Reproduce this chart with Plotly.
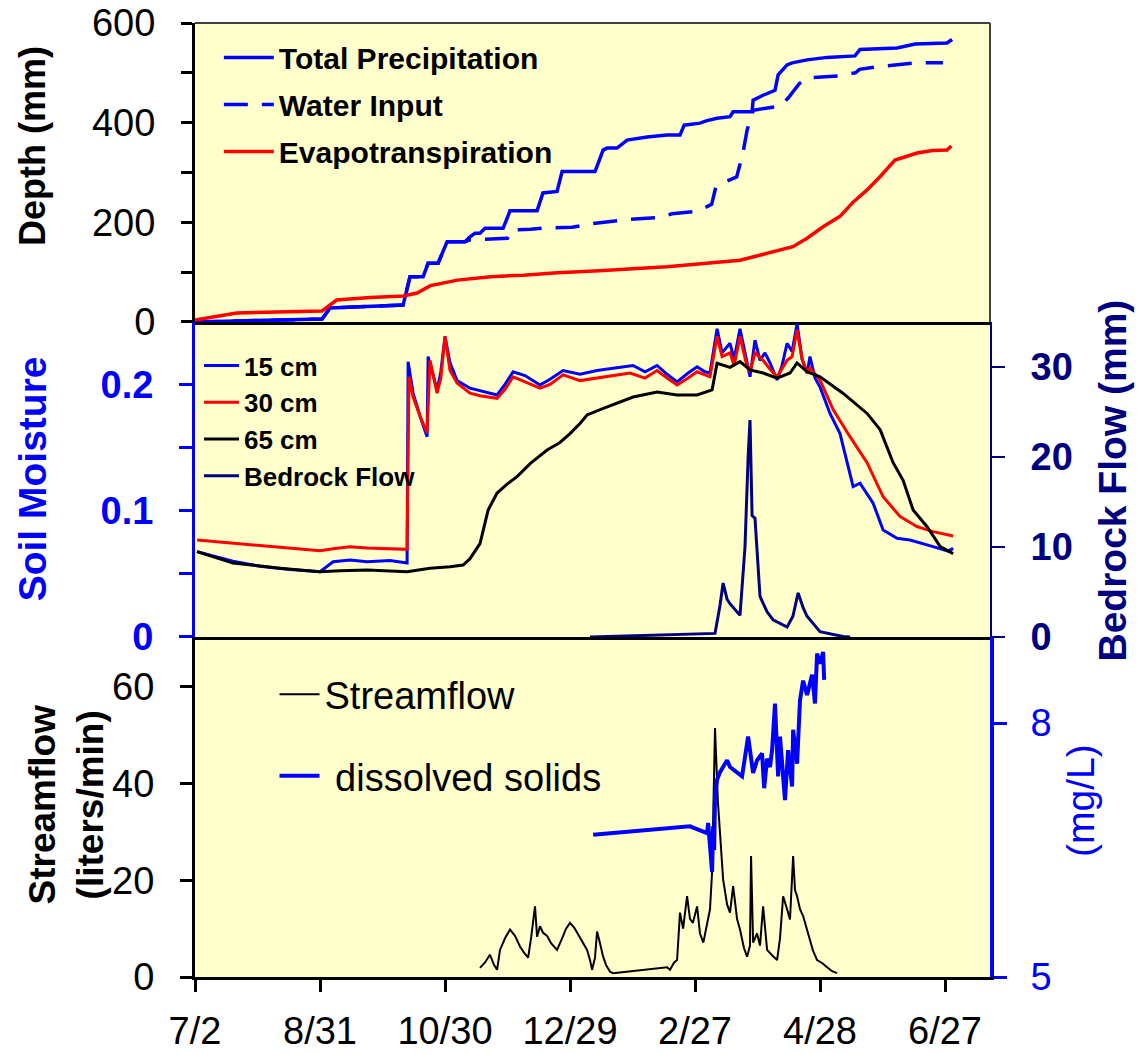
import plotly.graph_objects as go

# ---------------- data (x = days since 7/2) ----------------
tick_days = [0, 60, 120, 180, 240, 300, 360]
tick_labels = ["7/2", "8/31", "10/30", "12/29", "2/27", "4/28", "6/27"]

precip_day = [0, 31, 61, 64.8, 99.9, 103.2, 109.5, 111.9, 116.7, 121, 129.6, 132, 134.4, 136.8,
              139.2, 147.9, 151.2, 164.2, 167, 173.8, 176.2, 192, 195.9, 197.8, 202.6, 207.4,
              217, 226.6, 232.8, 234.8, 242.4, 245.8, 250.6, 256.8, 258.3, 267.4, 267.9, 272.7,
              278.4, 279.9, 284.2, 286.6, 293.8, 303.4, 316.8, 319.2, 337, 345.7, 361, 363.4]
precip_mm = [0, 3, 6, 28, 34, 91, 91, 118, 118, 161, 161, 171, 178, 178,
             188, 188, 223, 223, 259, 262, 302, 302, 345, 349, 349, 365,
             371, 375, 375, 395, 399, 404, 409, 412, 422, 422, 445, 455,
             465, 496, 516, 520, 526, 531, 534, 547, 550, 558, 560, 567]

input_day = [0, 31, 61, 64.8, 99.9, 103.2, 109.5, 111.9, 116.7, 121, 129.6, 132, 145.5, 150,
             152, 161, 169, 181, 190, 199, 209, 221, 229, 241, 248, 250, 253, 260, 263, 265,
             268, 274, 281, 285, 290, 294, 301, 309, 317, 319, 327, 337, 346, 359]
input_mm = [0, 3, 6, 28, 34, 91, 91, 118, 118, 161, 161, 165, 167, 168,
            185, 186, 189, 190, 197, 201, 206, 209, 217, 222, 236, 271, 279, 291, 339, 385,
            425, 429, 433, 451, 478, 490, 492, 494, 500, 507, 512, 516, 520, 520]

et_day = [0, 20, 61, 68, 84, 100, 106.6, 113, 126, 142, 157.5, 174, 194, 226.6, 261.6,
          274.6, 287, 293.8, 301.5, 309.6, 316, 322.6, 328.9, 336, 346.6, 354, 361, 363]
et_mm = [4, 18, 22, 44, 49, 52, 58, 73, 84, 91, 94, 99, 103, 111, 124,
         138, 151, 168, 191, 212, 241, 265, 292, 325, 339, 344, 345, 353]

sm15_day = [1, 9.6, 18.2, 31, 45.6, 60, 66.3, 74.4, 82.6, 93.6, 101.8, 102.3, 104.7, 108, 111.4,
            111.9, 116.2, 118, 120, 122.4, 125.8, 132, 136.8, 145, 148.8, 152.7, 158.4, 165.6,
            170.4, 176.7, 184.8, 193, 201.6, 210.3, 216, 221.8, 226.6, 231.4, 236.7, 241, 244.8,
            247.2, 250.6, 253, 256.8, 258.8, 261.6, 264.4, 266.4, 268.8, 271.2, 273.6, 276,
            279.4, 281.8, 284.2, 286.6, 289, 291.4, 293.8, 295.2, 297.6, 300, 304.8, 309.6,
            315.9, 319.2, 325.5, 330.3, 337, 343.2, 354.3, 361.5, 363.9]
sm15 = [0.0676, 0.064, 0.060, 0.056, 0.0535, 0.0517, 0.0596, 0.061, 0.0595, 0.0605, 0.0585, 0.218,
        0.193, 0.175, 0.1586, 0.222, 0.1956, 0.21, 0.238, 0.217, 0.203, 0.197, 0.195, 0.1916,
        0.2, 0.21, 0.207, 0.1995, 0.204, 0.211, 0.208, 0.211, 0.213, 0.215, 0.21, 0.215,
        0.208, 0.202, 0.209, 0.214, 0.21, 0.209, 0.244, 0.225, 0.2325, 0.22, 0.244, 0.222,
        0.206, 0.235, 0.219, 0.225, 0.217, 0.2035, 0.215, 0.2325, 0.226, 0.248, 0.22, 0.209,
        0.222, 0.205, 0.198, 0.177, 0.161, 0.119, 0.1217, 0.1059, 0.0847, 0.0781, 0.0768,
        0.0715, 0.068, 0.0702]

sm30_day = [1, 18.2, 40.8, 60, 67.2, 74.4, 82.6, 93.6, 101.8, 102.7, 104.7, 108, 111.4, 112.8,
            116.2, 118, 120, 122.4, 125.8, 132, 136.8, 145, 148.8, 152.7, 158.4, 165.6, 170.4,
            176.7, 184.8, 193, 201.6, 208.8, 216, 221.8, 226.6, 231.4, 236.7, 241, 247.2,
            250.6, 253, 256.8, 258.8, 261.6, 264.4, 266.4, 268.8, 272.7, 276, 279.4, 284.2,
            286.6, 289, 291.4, 293.8, 295.2, 300, 306.3, 314.4, 322.6, 330.3, 338.5, 346.6,
            354.3, 363.9]
sm30 = [0.0768, 0.0742, 0.071, 0.0683, 0.070, 0.0715, 0.0705, 0.0698, 0.0694, 0.206, 0.19,
        0.175, 0.1615, 0.219, 0.193, 0.205, 0.238, 0.211, 0.201, 0.193, 0.191, 0.189, 0.196,
        0.206, 0.202, 0.197, 0.2, 0.2075, 0.203, 0.205, 0.207, 0.209, 0.205, 0.211, 0.205,
        0.1995, 0.205, 0.21, 0.206, 0.238, 0.222, 0.225, 0.215, 0.238, 0.218, 0.21, 0.225,
        0.219, 0.212, 0.206, 0.219, 0.222, 0.243, 0.22, 0.209, 0.213, 0.2035, 0.18, 0.1586,
        0.138, 0.111, 0.0953, 0.0873, 0.0834, 0.080]

sm65_day = [1, 18.2, 40.8, 60, 69.6, 82.6, 101.8, 112.8, 122.4, 128.7, 132, 136.8, 140.7, 145,
            149.8, 154.6, 161, 169, 175.2, 180, 184.8, 188.2, 196, 204, 210.3, 221.8, 231.4,
            241, 248.2, 250.6, 256.8, 261.6, 266.4, 272.7, 279.4, 285.6, 289, 293.8, 300, 311,
            322.6, 328.9, 335.1, 339.9, 344.7, 351.4, 357.7, 363.9]
sm65 = [0.0676, 0.0585, 0.0545, 0.0517, 0.0525, 0.053, 0.0517, 0.0544, 0.0557, 0.057, 0.062,
        0.074, 0.1005, 0.114, 0.121, 0.127, 0.1375, 0.148, 0.154, 0.161, 0.169, 0.1758, 0.181,
        0.186, 0.19, 0.194, 0.1916, 0.1916, 0.1956, 0.2167, 0.2135, 0.218, 0.2114, 0.209,
        0.205, 0.209, 0.217, 0.21, 0.206, 0.193, 0.177, 0.164, 0.138, 0.124, 0.1005, 0.0873,
        0.0715, 0.066]

bedrock_day = [189.6, 241, 249.6, 252, 253.5, 255.4, 256.8, 261.6, 264, 265.5, 266.4, 267.4,
               268.8, 271.2, 274.6, 277.5, 284.2, 287, 289.5, 292, 293.8, 300, 311, 314.5]
bedrock_mm = [0, 0.3, 0.4, 3.5, 6.0, 4.2, 3.7, 2.4, 10, 20, 24.1, 13.5,
              13.2, 4.5, 2.8, 1.9, 1.1, 2.3, 4.9, 3.2, 2.3, 0.6, 0.05, 0]

flow_day = [136.8, 139.2, 141.6, 143.5, 145, 146.4, 148.8, 151.2, 153.6, 156, 158, 159.9, 161.3,
            163.2, 164.2, 165.6, 167, 169, 170.9, 173.8, 176.2, 178.1, 180, 182, 183.4, 185.8,
            188.2, 189.6, 190.6, 192, 193, 194.4, 195.9, 197.3, 199.2, 200.7, 226.6, 228, 230,
            231.4, 232.8, 234.3, 236.2, 237.6, 239, 241, 242.4, 244, 245.8, 247.2, 248.2, 249.6,
            251, 252, 253.5, 255.4, 256.8, 258.3, 260.2, 261.6, 263.5, 265, 266.4, 266.9, 267.9,
            269.8, 271.2, 272.7, 274.6, 277, 279.4, 280.8, 282.3, 284.2, 285.6, 287.1, 288,
            289, 290.4, 291.9, 293.8, 295.2, 296.6, 298.6, 301, 303.4, 305.8, 308.2]
flow_lpm = [1.9, 3.0, 4.6, 2.5, 1.5, 5.6, 8.0, 9.8, 8.5, 6.3, 5.0, 4.0, 8.0,
            14.6, 8.3, 10.5, 9.2, 8.5, 7.0, 5.6, 8.0, 10.0, 11.2, 10.2, 9.2, 7.5,
            5.6, 3.5, 1.5, 4.0, 9.4, 7.0, 4.2, 2.5, 1.1, 0.8, 2.0, 1.5, 3.0,
            3.5, 13.3, 10.0, 16.7, 12.0, 11.2, 14.6, 9.0, 7.1, 11.2, 14.0, 21.7, 51.5,
            36.2, 30.6, 20.2, 15.0, 13.3, 18.8, 12.0, 9.8, 6.0, 4.2, 6.5, 25.0, 7.1,
            9.0, 6.5, 14.6, 5.6, 4.5, 3.5, 8.0, 16.7, 14.0, 11.9, 25.0, 18.0,
            16.7, 14.0, 12.6, 9.5, 7.7, 5.5, 3.5, 2.9, 2.0, 1.2, 0.8]

tds_day = [191.1, 237.6, 245.8, 246.3, 247.2, 248.2, 248.7, 249.2, 249.6, 250.6, 252, 253.5,
           255.4, 256.8, 262.6, 265.5, 267.9, 269.8, 272.2, 273.2, 274.6, 276, 277, 278.4,
           279.9, 280.8, 283.2, 284.7, 286.6, 287.1, 289, 290.4, 291.9, 293.8, 296.2, 297.6,
           298.6, 300, 301.5, 302]
tds_mgl = [6.68, 6.78, 6.70, 6.82, 6.55, 6.24, 6.78, 6.50, 7.13, 7.33, 7.42, 7.48,
           7.56, 7.48, 7.37, 7.84, 7.41, 7.56, 7.64, 7.23, 7.58, 7.48, 7.68, 8.23,
           7.37, 7.84, 7.09, 7.68, 7.25, 7.92, 7.52, 8.27, 8.50, 8.33, 8.57, 8.23,
           8.82, 8.70, 8.84, 8.51]

# ---------------- styling ----------------
FONT = "Liberation Sans, Arial, sans-serif"
BLUE, RED, NAVY, BLACK = "#0000FF", "#FF0000", "#000080", "#000000"
BG = "#FFFFCC"
X_MAX = 381.6
D1 = [0.6866, 1.0]
D2 = [0.3564, 0.6866]
D3 = [0.0, 0.3564]

fig = go.Figure()

# panel 1: cumulative depths
fig.add_trace(go.Scatter(x=precip_day, y=precip_mm, name="Total Precipitation", mode="lines",
                         line=dict(color=BLUE, width=3.5), xaxis="x", yaxis="y",
                         legend="legend", legendgroup="p"))
fig.add_trace(go.Scatter(x=input_day, y=input_mm, name="Water Input", mode="lines",
                         line=dict(color=BLUE, width=3.5, dash="24px,14px"),
                         xaxis="x", yaxis="y", legend="legend", legendgroup="w"))
fig.add_trace(go.Scatter(x=et_day, y=et_mm, name="Evapotranspiration", mode="lines",
                         line=dict(color=RED, width=3.5), xaxis="x", yaxis="y",
                         legend="legend", legendgroup="e"))

# panel 2: soil moisture and bedrock flow
fig.add_trace(go.Scatter(x=sm15_day, y=sm15, name="15 cm", mode="lines",
                         line=dict(color=BLUE, width=3), xaxis="x2", yaxis="y2", legend="legend2"))
fig.add_trace(go.Scatter(x=sm30_day, y=sm30, name="30 cm", mode="lines",
                         line=dict(color=RED, width=3), xaxis="x2", yaxis="y2", legend="legend2"))
fig.add_trace(go.Scatter(x=sm65_day, y=sm65, name="65 cm", mode="lines",
                         line=dict(color=BLACK, width=3), xaxis="x2", yaxis="y2", legend="legend2"))
fig.add_trace(go.Scatter(x=bedrock_day, y=bedrock_mm, name="Bedrock Flow", mode="lines",
                         line=dict(color=NAVY, width=3), xaxis="x2", yaxis="y4", legend="legend2"))

# panel 3: streamflow and dissolved solids
fig.add_trace(go.Scatter(x=flow_day, y=flow_lpm, name="Streamflow", mode="lines",
                         line=dict(color=BLACK, width=2),
                         xaxis="x3", yaxis="y3", legend="legend3", legendgroup="a"))
fig.add_trace(go.Scatter(x=tds_day, y=tds_mgl, name="\u00a0dissolved solids", mode="lines",
                         line=dict(color=BLUE, width=4), xaxis="x3", yaxis="y5",
                         legend="legend3", legendgroup="b"))

tick_font = dict(family=FONT, size=38, color=BLACK)
bold = lambda c, s=38: dict(family=FONT, size=s, color=c, weight="bold")

common_x = dict(range=[0, X_MAX], domain=[0, 1], showgrid=False, zeroline=False,
                showline=True, linecolor=BLACK, linewidth=3, automargin=False)

fig.update_layout(
    width=1143, height=1054,
    margin=dict(l=195, r=153, t=23, b=77, autoexpand=False),
    paper_bgcolor="white", plot_bgcolor=BG,
    showlegend=True,
    xaxis=dict(**common_x, anchor="y", ticks="", showticklabels=False),
    xaxis2=dict(**common_x, anchor="y2", ticks="", showticklabels=False, matches="x"),
    xaxis3=dict(**common_x, anchor="y3", matches="x", ticks="outside", ticklen=12,
                tickwidth=3, tickcolor=BLACK, tickvals=tick_days, ticktext=tick_labels,
                tickfont=tick_font, ticklabelstandoff=6),
    yaxis=dict(domain=D1, range=[0, 600], anchor="x", showgrid=False, zeroline=False,
               showline=True, linecolor=BLACK, linewidth=3, ticks="outside", ticklen=11,
               tickwidth=3, tickcolor=BLACK, tickvals=[0, 100, 200, 300, 400, 500, 600],
               ticktext=["0", "", "200", "", "400", "", "600"], tickfont=tick_font,
               ticklabelstandoff=18, automargin=False),
    yaxis2=dict(domain=D2, range=[0, 0.2494], anchor="x2", showgrid=False, zeroline=False,
                showline=True, linecolor=BLUE, linewidth=3, ticks="outside", ticklen=13,
                tickwidth=3, tickcolor=BLUE, tickvals=[0, 0.05, 0.1, 0.15, 0.2],
                ticktext=["0", "", "0.1", "", "0.2"], tickfont=bold(BLUE),
                ticklabelstandoff=18, automargin=False),
    yaxis3=dict(domain=D3, range=[0, 70.3], anchor="x3", showgrid=False, zeroline=False,
                showline=True, linecolor=BLACK, linewidth=3, ticks="outside", ticklen=12,
                tickwidth=3, tickcolor=BLACK, tickvals=[0, 20, 40, 60],
                tickfont=tick_font, ticklabelstandoff=18, automargin=False),
    yaxis4=dict(overlaying="y2", side="right", anchor="x2", range=[0, 35], showgrid=False,
                zeroline=False, showline=True, linecolor=NAVY, linewidth=2, ticks="outside",
                ticklen=13, tickwidth=1.5, tickcolor=NAVY, tickvals=[0, 10, 20, 30],
                tickfont=bold(NAVY), ticklabelstandoff=18, automargin=False),
    yaxis6=dict(overlaying="y2", side="right", anchor="x2", range=[0, 35], showgrid=False,
                zeroline=False, showline=False, ticks="inside", ticklen=13, tickwidth=1.5,
                tickcolor=NAVY, tickvals=[0, 10, 20, 30], showticklabels=False,
                automargin=False),
    yaxis5=dict(overlaying="y3", side="right", anchor="x3", range=[5, 9.016], showgrid=False,
                zeroline=False, showline=True, linecolor=BLUE, linewidth=4, ticks="outside",
                ticklen=13, tickwidth=3, tickcolor=BLUE, tickvals=[5, 8],
                tickfont=dict(family=FONT, size=38, color=BLUE), ticklabelstandoff=16,
                automargin=False),
    yaxis7=dict(overlaying="y3", side="right", anchor="x3", range=[5, 9.016], showgrid=False,
                zeroline=False, showline=False, ticks="inside", ticklen=13, tickwidth=3,
                tickcolor=BLUE, tickvals=[5, 8], showticklabels=False, automargin=False),
    legend=dict(x=0.03, y=0.991, xanchor="left", yanchor="top", bgcolor="rgba(0,0,0,0)",
                font=dict(family=FONT, size=30, color=BLACK, weight="bold"),
                itemwidth=50, tracegroupgap=5),
    legend2=dict(x=0.005, y=0.6656, xanchor="left", yanchor="top", bgcolor="rgba(0,0,0,0)",
                 font=dict(family=FONT, size=26, color=BLACK, weight="bold"),
                 itemwidth=35),
    legend3=dict(x=0.1, y=0.329, xanchor="left", yanchor="top", bgcolor="rgba(0,0,0,0)",
                 font=dict(family=FONT, size=38, color=BLACK),
                 itemwidth=40, tracegroupgap=29),
)

# open frame edges of the top panel
frame = dict(type="line", xref="paper", yref="paper", line=dict(color="#404040", width=2))
fig.add_shape(**frame, x0=0, x1=1, y0=1, y1=1)
fig.add_shape(**frame, x0=1, x1=1, y0=D1[0], y1=1)

# axis titles
title_common = dict(xref="paper", yref="paper", showarrow=False, textangle=-90,
                    xanchor="center", yanchor="middle")
fig.add_annotation(**title_common, x=-0.205, y=0.871, text="Depth (mm)", font=bold(BLACK, 36))
fig.add_annotation(**title_common, x=-0.204, y=0.5225, text="Soil Moisture", font=bold(BLUE, 39))
fig.add_annotation(**title_common, x=-0.1616, y=0.1803, text="Streamflow<br>(liters/min)",
                   font=bold(BLACK, 37))
fig.add_annotation(**title_common, x=1.1547, y=0.5204, text="Bedrock Flow (mm)",
                   font=bold(NAVY, 39))
fig.add_annotation(**title_common, x=1.1145, y=0.1845, text="(mg/L)",
                   font=dict(family=FONT, size=39, color=BLUE))

fig.write_html("out.html")
